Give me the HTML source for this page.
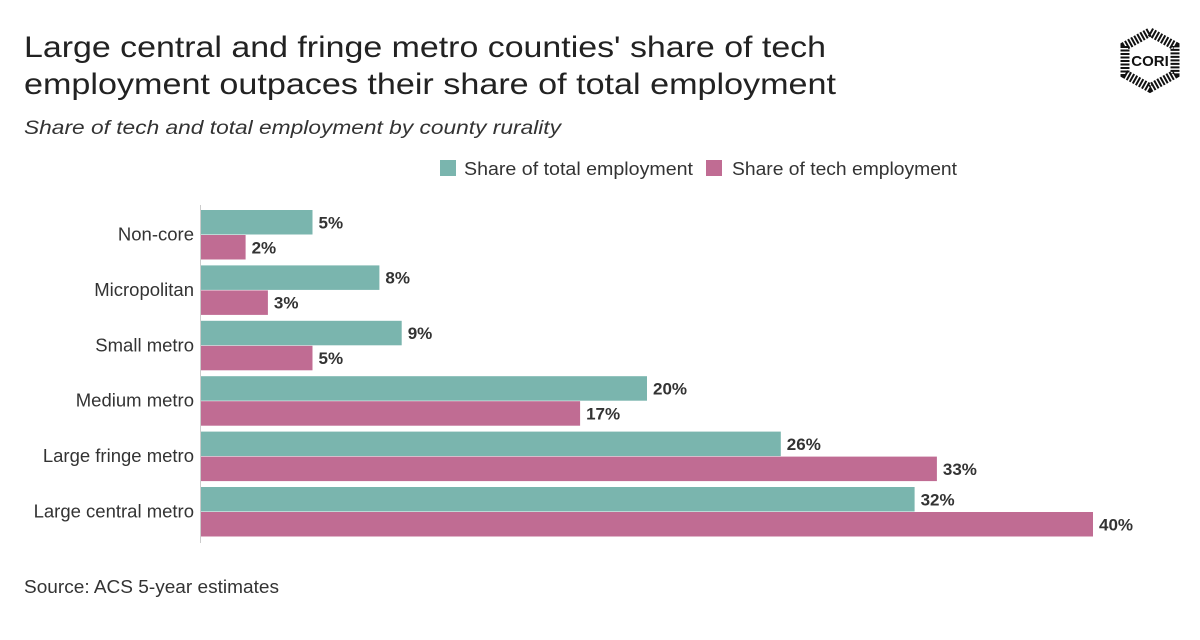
<!DOCTYPE html>
<html><head><meta charset="utf-8"><style>
body{margin:0;background:#fff;width:1200px;height:635px;overflow:hidden;font-family:"Liberation Sans",sans-serif;}
</style></head><body>
<svg width="1200" height="635">
<text x="24" y="57" font-size="30" fill="#222" textLength="802" lengthAdjust="spacingAndGlyphs">Large central and fringe metro counties' share of tech</text>
<text x="24" y="94" font-size="30" fill="#222" textLength="812" lengthAdjust="spacingAndGlyphs">employment outpaces their share of total employment</text>
<text x="24" y="134" font-size="19" font-style="italic" fill="#333" textLength="537" lengthAdjust="spacingAndGlyphs">Share of tech and total employment by county rurality</text>
<g>
<polygon points="1150,32 1175,46 1175,74 1150,88 1125,74 1125,46" fill="none" stroke="#111" stroke-width="9" stroke-dasharray="2 1.5"/>
<text x="1150" y="66" font-size="15" font-weight="bold" text-anchor="middle" fill="#111">CORI</text>
</g>
<g>
<rect x="440" y="160" width="16" height="16" fill="#7ab5ae"/>
<text x="464" y="175" font-size="18" fill="#333" textLength="229" lengthAdjust="spacingAndGlyphs">Share of total employment</text>
<rect x="706" y="160" width="16" height="16" fill="#c06c93"/>
<text x="732" y="175" font-size="18" fill="#333" textLength="225" lengthAdjust="spacingAndGlyphs">Share of tech employment</text>
</g>
<line x1="200.5" y1="205" x2="200.5" y2="543" stroke="#ccc"/>
<g id="bars"></g>
<text x="24" y="593" font-size="18" fill="#333" textLength="255" lengthAdjust="spacingAndGlyphs">Source: ACS 5-year estimates</text>
</svg>
<script>
const categories=["Non-core","Micropolitan","Small metro","Medium metro","Large fringe metro","Large central metro"];
const totalShare=[5,8,9,20,26,32];
const techShare=[2,3,5,17,33,40];
const NS="http://www.w3.org/2000/svg";
const g=document.getElementById('bars');
const x0=201, scale=22.3, top0=210, step=55.4, bh=24.5;
function xs(v){return x0+v*scale;}
function mk(tag,attrs){const e=document.createElementNS(NS,tag);for(const k in attrs)e.setAttribute(k,attrs[k]);return e;}
categories.forEach((c,i)=>{
  const y=top0+i*step;
  const lab=mk('text',{x:194,y:y+bh+6,'font-size':18.5,fill:'#333','text-anchor':'end'});
  lab.textContent=c;
  
  
  g.appendChild(lab);
  [[totalShare,'#7ab5ae',0,'total'],[techShare,'#c06c93',bh+0.5,'tech']].forEach(([arr,col,off,nm])=>{
    const v=arr[i];
    const r=mk('rect',{x:x0,y:y+off,width:xs(v)-x0,height:bh,fill:col});
    
    
    g.appendChild(r);
    const t=mk('text',{x:xs(v)+6,y:y+off+bh/2+6,'font-size':17,'font-weight':'bold',fill:'#333'});
    t.textContent=v+'%';
    
    
    g.appendChild(t);
  });
});
</script>
</body></html>
